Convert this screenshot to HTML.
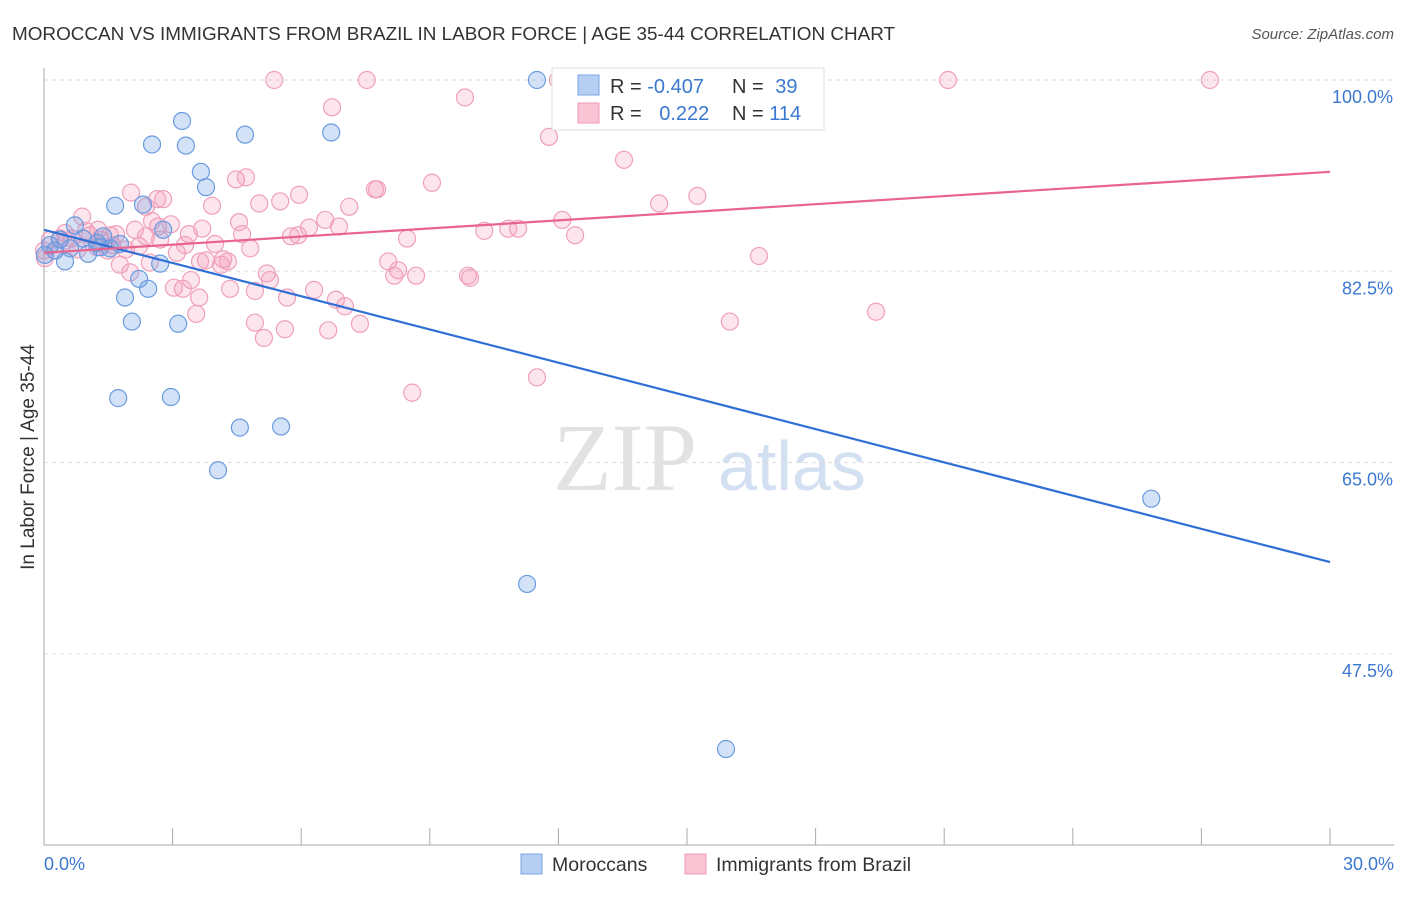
<!DOCTYPE html>
<html><head><meta charset="utf-8"><style>
body{margin:0;background:#fff;font-family:"Liberation Sans",sans-serif}
#wrap{position:relative;width:1406px;height:892px}
</style></head><body>
<div id="wrap">
<svg id="svg" width="1406" height="892" xmlns="http://www.w3.org/2000/svg">
<text x="12" y="40" font-size="18.9" fill="#333">MOROCCAN VS IMMIGRANTS FROM BRAZIL IN LABOR FORCE | AGE 35-44 CORRELATION CHART</text>
<text x="1394" y="39" font-size="15" fill="#555" font-style="italic" text-anchor="end">Source: ZipAtlas.com</text>
<text transform="translate(34,457) rotate(-90)" font-size="19" fill="#333" text-anchor="middle">In Labor Force | Age 35-44</text>
<text x="553" y="490" font-size="96" fill="#e2e2e2" font-family="Liberation Serif,serif">ZIP</text>
<text x="718" y="490" font-size="70" fill="#d3e0f2">atlas</text>
<g id="grid"></g><g id="axes"></g><g id="pink"></g><g id="blue"></g><g id="lines"></g>
<g>
<rect x="552" y="68" width="272" height="62" fill="#fff" stroke="#ddd"/>
<rect x="578" y="75" width="21" height="20" fill="#b5cff3" stroke="#7aa6e6"/>
<rect x="578" y="103" width="21" height="20" fill="#f9c4d4" stroke="#ee9ab5"/>
<text x="610" y="93" font-size="20" fill="#333">R = <tspan fill="#3b78d0">-0.407</tspan></text>
<text x="732" y="93" font-size="20" fill="#333">N = <tspan fill="#3b78d0" dx="6">39</tspan></text>
<text x="610" y="120" font-size="20" fill="#333">R = <tspan fill="#3b78d0" dx="12">0.222</tspan></text>
<text x="732" y="120" font-size="20" fill="#333">N = <tspan fill="#3b78d0">114</tspan></text>
</g>
<g>
<rect x="521" y="854" width="21" height="20" fill="#b5cff3" stroke="#7aa6e6"/>
<text x="552" y="871" font-size="19.5" fill="#333">Moroccans</text>
<rect x="685" y="854" width="21" height="20" fill="#f9c4d4" stroke="#ee9ab5"/>
<text x="716" y="871" font-size="19.5" fill="#333">Immigrants from Brazil</text>
</g>
</svg></div>
<script>
const xTicks=[0,3,6,9,12,15,18,21,24,27,30];
const yTicks=[100,82.5,65,47.5];
const blueX=[11.5,3.22,2.52,3.31,4.69,6.70,3.66,3.78,1.66,2.31,2.78,0.72,1.03,1.24,0.49,0.26,0.14,1.38,1.54,2.22,2.43,1.89,2.71,2.05,3.13,1.73,2.96,4.57,5.53,4.06,11.27,15.91,25.83,0.37,0.02,0.91,0.61,1.77,1.31];
const blueY=[100,96.25,94.1,94.0,95.0,95.2,91.6,90.2,88.5,88.6,86.3,86.7,84.1,85.1,83.4,84.4,84.9,85.7,84.6,81.8,80.9,80.1,83.2,77.9,77.7,70.9,71.0,68.2,68.3,64.3,53.9,38.8,61.7,85.4,84.0,85.5,84.6,85.0,84.7];
const pinkX=[5.37,7.53,11.99,21.09,27.20,6.72,9.82,11.78,13.53,7.72,7.77,9.05,15.24,14.35,4.48,4.71,5.95,5.51,5.02,3.92,7.12,2.03,2.78,2.38,2.64,2.52,2.96,0.89,4.55,6.56,6.18,6.88,5.76,5.93,10.27,10.83,11.06,12.09,12.39,8.47,2.66,3.38,4.62,3.69,1.68,1.26,0.98,0.37,0.49,0.65,3.99,4.81,2.22,1.91,3.10,0.79,1.49,3.78,4.18,4.29,4.13,2.47,2.01,8.03,8.26,8.17,8.68,9.89,9.94,5.20,5.27,16.68,3.43,3.24,3.03,3.62,4.34,4.92,5.67,6.30,6.81,7.02,3.55,4.92,5.13,5.62,6.63,7.37,16.00,19.41,8.59,11.50,0.14,0.26,0.02,0,0.51,1.07,1.31,1.59,2.12,1.77,2.71,3.29,3.64,1.24,1.54,2.38];
const pinkY=[100,100,100,100,100,97.5,98.4,94.8,92.7,90.0,90.0,90.6,89.4,88.7,90.9,91.1,89.5,88.9,88.7,88.5,88.4,89.7,89.1,88.4,89.1,87.1,86.8,87.5,87.0,87.2,86.5,86.6,85.7,85.8,86.2,86.4,86.4,87.2,85.8,85.5,86.6,85.9,85.9,86.4,85.9,86.3,86.2,85.5,86.0,85.5,85.0,84.6,84.8,84.5,84.2,84.5,84.4,83.5,83.6,83.4,83.1,83.3,82.4,83.4,82.6,82.1,82.1,82.1,81.9,82.3,81.7,83.9,81.7,80.9,81.0,80.1,80.9,80.7,80.1,80.8,79.9,79.3,78.6,77.8,76.4,77.2,77.1,77.7,77.9,78.8,71.4,72.8,85.4,84.4,83.7,84.4,85.3,85.8,85.4,84.9,86.3,83.1,85.4,84.9,83.4,84.7,85.8,85.7];
const blueTrend=[86.3,55.9];
const pinkTrend=[84.2,91.6];
const X=v=>44+v/30*1286, Y=v=>80+(100-v)/17.5*191.3;
const NS="http://www.w3.org/2000/svg";
function mk(p,t,a){const e=document.createElementNS(NS,t);for(const k in a)e.setAttribute(k,a[k]);document.getElementById(p).appendChild(e);return e;}
yTicks.forEach(v=>{
 const l=mk('grid','line',{x1:44,x2:1394,y1:Y(v),y2:Y(v),stroke:'#ddd','stroke-dasharray':'4,4'});
 
 
 const t=mk('grid','text',{x:1393,y:Y(v)+23,'font-size':18,fill:'#3b78d0','text-anchor':'end'});t.textContent=v.toFixed(1)+'%';
 
 
});
mk('axes','line',{x1:44,x2:44,y1:68,y2:845,stroke:'#aaa'});
mk('axes','line',{x1:44,x2:1394,y1:845,y2:845,stroke:'#aaa'});
xTicks.forEach(v=>{
 const l=mk('axes','line',{x1:X(v),x2:X(v),y1:828,y2:845,stroke:'#aaa'});
 
 
});
[[0,'0.0%',44,'start'],[30,'30.0%',1394,'end']].forEach(d=>{
 const t=mk('axes','text',{x:d[2],y:870,'font-size':18,fill:'#3b78d0','text-anchor':d[3]});t.textContent=d[1];
 
 
});
pinkX.forEach((x,i)=>{
 const c=mk('pink','circle',{cx:X(x),cy:Y(pinkY[i]),r:8.5,fill:'rgba(245,150,180,0.25)',stroke:'#f0a0ba','stroke-width':1.2});
 
 
});
blueX.forEach((x,i)=>{
 const c=mk('blue','circle',{cx:X(x),cy:Y(blueY[i]),r:8.5,fill:'rgba(110,160,230,0.3)',stroke:'#6a9be0','stroke-width':1.2});
 
 
});
const bl=mk('lines','line',{x1:X(0),y1:Y(blueTrend[0]),x2:X(30),y2:Y(blueTrend[1]),stroke:'#2f6fd6','stroke-width':2.2});


const pl=mk('lines','line',{x1:X(0),y1:Y(pinkTrend[0]),x2:X(30),y2:Y(pinkTrend[1]),stroke:'#e8648e','stroke-width':2.2});


</script>
</body></html>
